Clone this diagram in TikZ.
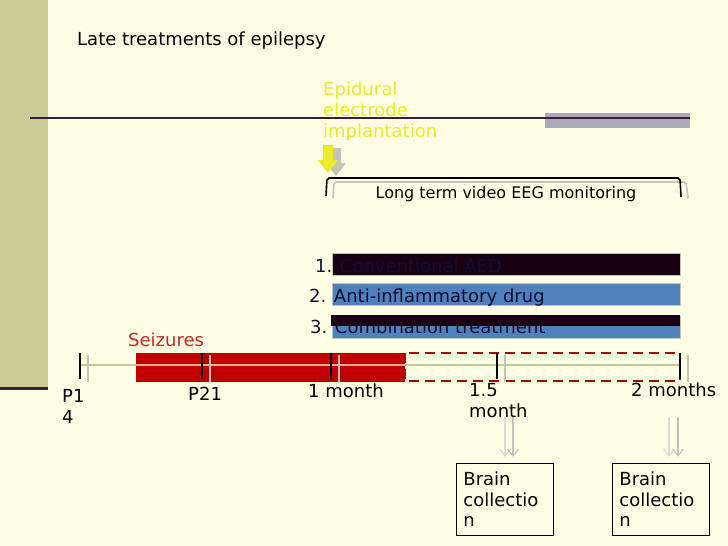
\documentclass[tikz,border=0pt]{standalone}
\usepackage{fontspec}
\setmainfont{DejaVu Sans}
\usetikzlibrary{positioning,arrows.meta}
\definecolor{slidebg}{RGB}{255,255,229}
\definecolor{stripkhaki}{RGB}{204,204,153}
\definecolor{framedark}{RGB}{60,30,60}
\definecolor{bargray}{RGB}{170,170,185}
\definecolor{epiyellow}{RGB}{235,235,40}
\definecolor{shadowgray}{RGB}{195,195,185}
\definecolor{aeddark}{RGB}{25,0,20}
\definecolor{drugblue}{RGB}{79,129,189}
\definecolor{inknavy}{RGB}{15,15,50}
\definecolor{seizred}{RGB}{192,0,0}
\definecolor{seiztext}{RGB}{200,40,40}
\definecolor{seizline}{RGB}{235,175,150}
\definecolor{axiskhaki}{RGB}{200,200,150}
\tikzset{lbl/.style={anchor=base west,inner sep=0pt,font=\fontsize{18}{21}\selectfont,align=left},
	 treatbar/.style={draw=shadowgray,line width=0.6,anchor=north west,inner sep=0pt,minimum width=348,minimum height=22},
	 tick/.style={black,line width=1.6},
	 tickshadow/.style={shadowgray,line width=1.6},
	 brainbox/.style={draw,line width=0.8,anchor=north west,align=left,text width=83,inner xsep=7,inner ysep=6,minimum height=72,font=\fontsize{18}{20.5}\selectfont},
	 collect/.style={line width=1.2,-{Straight Barb[length=7,width=11]},shorten >=6}
	 }

\begin{document}
\begin{tikzpicture}[x=1pt,y=-1pt] % late treatments
	\fill[slidebg] (0,0) rectangle (728,546);
	\useasboundingbox (0,0) rectangle (728,546);
	\fill[stripkhaki] (0,0) rectangle (48,387);
	\draw[framedark,line width=3] (0,388.5) -- (48,388.5);
	\fill[bargray] (545,113) rectangle (690,128);
	\draw[framedark,line width=1.2] (30,118) -- (690,118);

	\node[lbl] (title) at (77,45) {Late treatments of epilepsy};
	\node[lbl,text=epiyellow] (epidural) at (323,137) {Epidural\\electrode\\implantation};

	% implantation arrow
	\fill[shadowgray] (331,148) -- (341,148) -- (341,163) -- (346,163) -- (336,176) -- (326,163) -- (331,163) -- cycle;
	\fill[epiyellow] (323,145) -- (333,145) -- (333,160) -- (338,160) -- (328,173) -- (318,160) -- (323,160) -- cycle;

	% monitoring bracket
	\draw[shadowgray,line width=1.6,rounded corners=2] (333,198) -- (334,182) -- (686,182) -- (688,198);
	\draw[line width=1.6,rounded corners=2] (326,196) -- (327,178) -- (680,178) -- (681,197);
	\node[lbl,anchor=base,font=\fontsize{16}{19}\selectfont] (eeg) at (506,198) {Long term video EEG monitoring};

	% treatments
	\node[treatbar,fill=aeddark] (aed) at (332,253) {};
	\node[treatbar,fill=drugblue] (drug) at (332,283) {};
	\node[treatbar,fill=drugblue] (combo) at (332,316) {};
	\node[lbl,text=inknavy] (aedtext) at (315,272) {1. Conventional AED};
	\node[lbl,text=inknavy] (drugtext) at (309,302) {2. Anti-inflammatory drug};
	\node[lbl,text=inknavy] (combotext) at (310,333) {3. Combination treatment};
	\fill[aeddark] (331,315) rectangle (680,326);

	% time line
	\node[lbl,text=seiztext] (seiz) at (128,346) {Seizures};
	\draw[axiskhaki,line width=1.6] (80,365) -- (680,365);
	\fill[seizred] (136,353) rectangle (405,382);
	\draw[seizline,line width=1.6] (136,365) -- (405,365);
	\draw[seizred!90!black,line width=2.5,dash pattern=on 10 off 6] (405,353) rectangle (680,381);
	\foreach \x in {80,202,331,497,680} {
		\draw[tickshadow] (\x+8,355) -- ++(0,27);
		\draw[tick] (\x,353) -- ++(0,26);
	}
	\node[lbl] (p14) at (62,423) {P1\\4};
	\node[lbl] (p21) at (188,400) {P21};
	\node[lbl] (m1) at (308,397) {1 month};
	\node[lbl] (m15) at (469,417) {1.5\\month};
	\node[lbl] (m2) at (631,396) {2 months};

	% brain collection
	\node[brainbox] (box1) at (456,463) {Brain\\collectio\\n};
	\node[brainbox] (box2) at (612,463) {Brain\\collectio\\n};
	\coordinate (c1a) at (505,417);
	\coordinate (c1b) at (513,417);
	\coordinate (c2a) at (669,417);
	\coordinate (c2b) at (678,417);
	\draw[collect,shadowgray!60] (c1a) -- (c1a |- box1.north);
	\draw[collect,shadowgray] (c1b) -- (c1b |- box1.north);
	\draw[collect,shadowgray!60] (c2a) -- (c2a |- box2.north);
	\draw[collect,shadowgray] (c2b) -- (c2b |- box2.north);
\end{tikzpicture}
\end{document}
